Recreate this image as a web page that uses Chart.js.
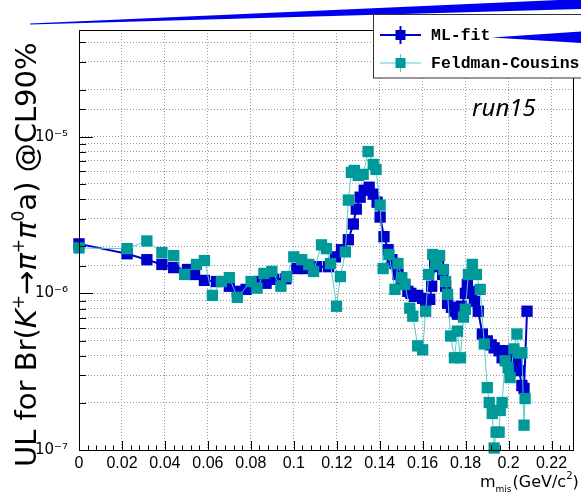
<!DOCTYPE html>
<html>
<head>
<meta charset="utf-8">
<script src="https://cdn.jsdelivr.net/npm/chart.js@4.4.1/dist/chart.umd.min.js"></script>
<style>
  html, body { margin: 0; padding: 0; background: #fff; }
  #wrap { width: 581px; height: 494px; }
</style>
</head>
<body>
<div id="wrap"><canvas id="myChart" width="581" height="494"></canvas></div>
<script>
// ML-fit: missing mass (GeV/c^2) and 90% CL upper limit
var mlMass = [0.000, 0.0224, 0.0316, 0.0386, 0.0441, 0.0506, 0.0538, 0.0584, 0.0640, 0.0700,
  0.0737, 0.0778, 0.0838, 0.0871, 0.0907, 0.0963, 0.1014, 0.1056, 0.1106, 0.1162,
  0.1194, 0.1222, 0.1254, 0.1277, 0.1291, 0.1309, 0.1328, 0.1351, 0.1370, 0.1388,
  0.1402, 0.1420, 0.1439, 0.1457, 0.1471, 0.1485, 0.1499, 0.1517, 0.1531, 0.1545,
  0.1563, 0.1577, 0.1600, 0.1614, 0.1633, 0.1642, 0.1656, 0.1674, 0.1693, 0.1707,
  0.1716, 0.1734, 0.1748, 0.1762, 0.1781, 0.1799, 0.1808, 0.1827, 0.1841, 0.1859,
  0.1878, 0.1901, 0.1919, 0.1933, 0.1956, 0.1970, 0.1989, 0.2007, 0.2025, 0.2039,
  0.2049, 0.2062, 0.2072, 0.2086];
var mlLimit = [2.07e-6, 1.79e-6, 1.64e-6, 1.53e-6, 1.46e-6, 1.42e-6, 1.32e-6, 1.21e-6, 1.19e-6, 1.11e-6,
  1.03e-6, 1.06e-6, 1.19e-6, 1.16e-6, 1.23e-6, 1.24e-6, 1.44e-6, 1.44e-6, 1.48e-6, 1.48e-6,
  1.71e-6, 1.90e-6, 2.20e-6, 2.77e-6, 3.45e-6, 4.11e-6, 4.55e-6, 4.76e-6, 4.30e-6, 3.82e-6,
  3.07e-6, 2.30e-6, 1.90e-6, 1.64e-6, 1.55e-6, 1.32e-6, 1.23e-6, 1.14e-6, 1.03e-6, 1.00e-6,
  9.57e-7, 9.71e-7, 9.29e-7, 8.90e-7, 9.16e-7, 1.11e-6, 1.53e-6, 1.48e-6, 1.32e-6, 1.11e-6,
  8.64e-7, 8.15e-7, 7.69e-7, 7.36e-7, 8.27e-7, 1.00e-6, 1.14e-6, 1.03e-6, 8.90e-7, 7.69e-7,
  5.50e-7, 4.97e-7, 4.69e-7, 4.49e-7, 4.30e-7, 3.88e-7, 4.30e-7, 4.17e-7, 3.88e-7, 3.56e-7,
  3.21e-7, 2.58e-7, 2.47e-7, 7.69e-7];

// Feldman-Cousins
var fcMass = [0.000, 0.0224, 0.0316, 0.0386, 0.0441, 0.0492, 0.0547, 0.0584, 0.0621, 0.0663,
  0.0700, 0.0737, 0.0801, 0.0829, 0.0861, 0.0898, 0.0940, 0.0967, 0.1000, 0.1037,
  0.1070, 0.1092, 0.1129, 0.1152, 0.1171, 0.1199, 0.1217, 0.1240, 0.1254, 0.1268,
  0.1282, 0.1300, 0.1323, 0.1346, 0.1370, 0.1383, 0.1402, 0.1416, 0.1443, 0.1471,
  0.1485, 0.1503, 0.1517, 0.1540, 0.1554, 0.1577, 0.1600, 0.1614, 0.1628, 0.1647,
  0.1661, 0.1679, 0.1697, 0.1707, 0.1716, 0.1730, 0.1748, 0.1762, 0.1776, 0.1790,
  0.1799, 0.1813, 0.1831, 0.1850, 0.1868, 0.1887, 0.1901, 0.1910, 0.1924, 0.1933,
  0.1942, 0.1956, 0.1961, 0.1970, 0.1984, 0.1998, 0.2007, 0.2025, 0.2039, 0.2049,
  0.2062, 0.2072, 0.2077];
var fcLimit = [1.95e-6, 1.93e-6, 2.16e-6, 1.82e-6, 1.74e-6, 1.32e-6, 1.53e-6, 1.62e-6, 9.71e-7, 1.19e-6,
  1.26e-6, 9.43e-7, 1.19e-6, 1.08e-6, 1.34e-6, 1.38e-6, 1.11e-6, 1.28e-6, 1.71e-6, 1.64e-6,
  1.53e-6, 1.38e-6, 2.04e-6, 1.93e-6, 1.55e-6, 8.27e-7, 1.28e-6, 1.84e-6, 3.94e-6, 5.92e-6,
  6.09e-6, 5.66e-6, 5.75e-6, 8.04e-6, 6.65e-6, 6.18e-6, 3.66e-6, 1.44e-6, 1.77e-6, 1.06e-6,
  1.55e-6, 1.26e-6, 1.14e-6, 8.04e-7, 7.15e-7, 4.62e-7, 4.36e-7, 7.69e-7, 1.32e-6, 1.77e-6,
  1.53e-6, 1.74e-6, 1.42e-6, 1.19e-6, 9.86e-7, 5.34e-7, 3.88e-7, 5.74e-7, 3.88e-7, 7.05e-7,
  7.92e-7, 1.32e-6, 1.53e-6, 1.32e-6, 1.06e-6, 4.75e-7, 2.50e-7, 2.01e-7, 1.71e-7, 1.03e-7,
  1.30e-7, 1.30e-7, 1.79e-7, 2.01e-7, 3.71e-7, 3.35e-7, 2.90e-7, 4.42e-7, 5.50e-7, 4.17e-7,
  4.17e-7, 1.44e-7, 2.13e-7];

var xTicks = [0, 0.02, 0.04, 0.06, 0.08, 0.1, 0.12, 0.14, 0.16, 0.18, 0.2, 0.22];
var xTickLabels = ['0', '0.02', '0.04', '0.06', '0.08', '0.1', '0.12', '0.14', '0.16', '0.18', '0.2', '0.22'];
var yTickLabels = {'-7': '10\u207B\u2077', '-6': '10\u207B\u2076', '-5': '10\u207B\u2075'};
var seriesNames = ['ML-fit', 'Feldman-Cousins'];

var mlColor = '#0000cc';
var fcColor = '#00999a';
var fcLine = '#55cccc';

function toPoints(xs, ys) {
  return xs.map(function (x, i) { return {x: x, y: ys[i]}; });
}

function decade(v) {
  var l = Math.log10(v);
  return Math.abs(l - Math.round(l)) < 1e-6 ? Math.round(l) : null;
}

// ROOT-like decorations: frame, inward ticks, axis titles, legend
var rootStyle = {
  id: 'rootStyle',
  afterDraw: function (chart) {
    var ctx = chart.ctx;
    var a = chart.chartArea;
    var xs = chart.scales.x, ys = chart.scales.y;
    ctx.save();

    // frame
    ctx.strokeStyle = '#000';
    ctx.lineWidth = 1;
    ctx.strokeRect(Math.round(a.left) + 0.5, Math.round(a.top) + 0.5,
      Math.round(a.right - a.left), Math.round(a.bottom - a.top));

    // y ticks (inside)
    ctx.beginPath();
    ys.ticks.forEach(function (t) {
      var py = Math.round(ys.getPixelForValue(t.value)) + 0.5;
      var len = decade(t.value) !== null ? 14 : 7;
      ctx.moveTo(a.left, py);
      ctx.lineTo(a.left + len, py);
    });
    // x ticks (inside)
    xs.ticks.forEach(function (t) {
      var px = Math.round(xs.getPixelForValue(t.value)) + 0.5;
      ctx.moveTo(px, a.bottom);
      ctx.lineTo(px, a.bottom - 9);
    });
    for (var m = 0.004; m < 0.23; m += 0.004) {
      var px = Math.round(xs.getPixelForValue(m)) + 0.5;
      ctx.moveTo(px, a.bottom);
      ctx.lineTo(px, a.bottom - 4.5);
    }
    ctx.stroke();

    // x title
    ctx.fillStyle = '#000';
    ctx.textBaseline = 'alphabetic';
    ctx.textAlign = 'left';
    var x0 = 480, by = 487;
    ctx.font = '16px "DejaVu Sans"';
    ctx.fillText('m', x0, by);
    x0 += ctx.measureText('m').width;
    ctx.font = '9px "DejaVu Sans"';
    ctx.fillText('mis', x0, by + 5);
    x0 += ctx.measureText('mis').width + 1;
    ctx.font = '16px "DejaVu Sans"';
    ctx.fillText('(GeV/c', x0, by);
    x0 += ctx.measureText('(GeV/c').width;
    ctx.font = '10px "DejaVu Sans"';
    ctx.fillText('2', x0, by - 8);
    x0 += ctx.measureText('2').width;
    ctx.font = '16px "DejaVu Sans"';
    ctx.fillText(')', x0, by);

    // y title (rotated)
    var segs = [
      ['UL for Br(', 'n'], ['K', 'i'], ['+', 's'], ['\u2192', 'n'], ['\u03C0', 'i'], ['+', 's'],
      ['\u03C0', 'i'], ['0', 's'], ['a', 'n'], [') @CL90%', 'n']
    ];
    ctx.save();
    ctx.translate(36, 467);
    ctx.rotate(-Math.PI / 2);
    var fs = 29, cx = 0;
    segs.forEach(function (s) {
      if (s[1] === 's') ctx.font = Math.round(fs * 0.6) + 'px "DejaVu Sans"';
      else if (s[1] === 'i') ctx.font = 'italic ' + fs + 'px "DejaVu Sans"';
      else ctx.font = fs + 'px "DejaVu Sans"';
      ctx.fillText(s[0], cx, s[1] === 's' ? -fs * 0.42 : 0);
      cx += ctx.measureText(s[0]).width;
    });
    ctx.restore();

    // run label
    ctx.font = 'italic 24px "Noto Sans"';
    ctx.fillText('run15', 472, 116);

    // blue wedge at the top
    ctx.fillStyle = '#0000ee';
    ctx.beginPath();
    ctx.moveTo(30, 23.5);
    ctx.lineTo(581, -1);
    ctx.lineTo(581, 9);
    ctx.lineTo(30, 24.5);
    ctx.closePath();
    ctx.fill();

    // legend
    var lx = 373.5, ly = 14.5;
    ctx.fillStyle = '#fff';
    ctx.fillRect(lx, ly, 600 - lx, 78 - ly);
    ctx.strokeStyle = '#333';
    ctx.lineWidth = 1;
    ctx.strokeRect(lx, ly, 600 - lx, 78 - ly);
    var rows = [[35, mlColor, mlColor, 2], [63, fcColor, fcLine, 1]];
    rows.forEach(function (r, i) {
      var yy = r[0];
      ctx.strokeStyle = r[2];
      ctx.lineWidth = r[3];
      ctx.beginPath();
      ctx.moveTo(380, yy); ctx.lineTo(421, yy);
      ctx.moveTo(400.5, yy - 9); ctx.lineTo(400.5, yy + 9);
      ctx.stroke();
      ctx.fillStyle = r[1];
      ctx.fillRect(395.5, yy - 5, 10, 10);
      ctx.fillStyle = '#000';
      ctx.font = 'bold 16.5px "Liberation Mono"';
      ctx.textBaseline = 'middle';
      ctx.fillText(seriesNames[i], 431, yy + 1);
    });

    // second wedge over the legend
    ctx.fillStyle = '#0000ee';
    ctx.beginPath();
    ctx.moveTo(492, 37.5);
    ctx.lineTo(581, 31.5);
    ctx.lineTo(581, 43);
    ctx.closePath();
    ctx.fill();

    ctx.restore();
  }
};

var ctx = document.getElementById('myChart').getContext('2d');
var myChart = new Chart(ctx, {
  type: 'line',
  data: {
    datasets: [
      {
        label: seriesNames[0],
        data: toPoints(mlMass, mlLimit),
        borderColor: mlColor,
        backgroundColor: mlColor,
        borderWidth: 2,
        pointStyle: 'rect',
        pointRadius: 8,
        pointBorderWidth: 0,
        pointBackgroundColor: mlColor,
        tension: 0,
        clip: false,
        order: 1
      },
      {
        label: seriesNames[1],
        data: toPoints(fcMass, fcLimit),
        borderColor: fcLine,
        backgroundColor: fcColor,
        borderWidth: 1,
        pointStyle: 'rect',
        pointRadius: 8,
        pointBorderWidth: 0,
        pointBackgroundColor: fcColor,
        tension: 0,
        clip: false,
        order: 0
      }
    ]
  },
  options: {
    responsive: false,
    animation: false,
    layout: { padding: { top: 30, right: 5, left: 0, bottom: 0 } },
    plugins: { legend: { display: false }, tooltip: { enabled: false } },
    scales: {
      x: {
        type: 'linear',
        min: 0,
        max: 0.23,
        afterFit: function (s) { s.height = 44; },
        afterBuildTicks: function (s) {
          s.ticks = xTicks.map(function (v) { return {value: v}; });
        },
        ticks: {
          autoSkip: false,
          maxRotation: 0,
          padding: 4,
          color: '#000',
          font: { family: '"Liberation Sans"', size: 16 },
          callback: function (v, i) { return xTickLabels[i]; }
        },
        grid: { color: '#9a9a9a', lineWidth: 1, drawTicks: false },
        border: { display: false, dash: [1, 2] }
      },
      y: {
        type: 'logarithmic',
        min: 1e-7,
        max: 4.8e-5,
        afterFit: function (s) { s.width = 79; },
        ticks: {
          autoSkip: false,
          padding: 11,
          color: '#000',
          font: { family: '"DejaVu Sans"', size: 15 },
          callback: function (v) {
            var d = decade(v);
            return d !== null && yTickLabels[d] ? yTickLabels[d] : '';
          }
        },
        grid: { color: '#9a9a9a', lineWidth: 1, drawTicks: false },
        border: { display: false, dash: [1, 2] }
      }
    }
  },
  plugins: [rootStyle]
});
</script>
</body>
</html>
